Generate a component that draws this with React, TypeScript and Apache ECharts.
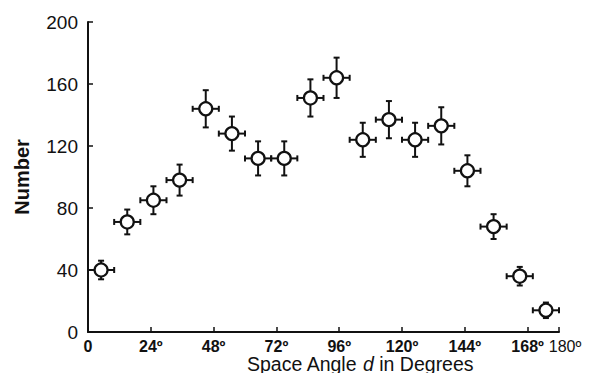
import React, { useEffect, useRef } from "react";
import * as echarts from "echarts";

const angles = [5, 15, 25, 35, 45, 55, 65, 75, 85, 95, 105, 115, 125, 135, 145, 155, 165, 175];
const counts = [40, 71, 85, 98, 144, 128, 112, 112, 151, 164, 124, 137, 124, 133, 104, 68, 36, 14];
const angleErr = [5, 5, 5, 5, 5, 5, 5, 5, 5, 5, 5, 5, 5, 5, 5, 5, 5, 5];
const countErr = [6, 8, 9, 10, 12, 11, 11, 11, 12, 13, 11, 12, 11, 12, 10, 8, 6, 5];
const xTicks = [0, 24, 48, 72, 96, 120, 144, 168, 180];
const yTicks = [0, 40, 80, 120, 160, 200];

const FONT = "Liberation Sans, Arial, sans-serif";

export default function App() {
  const ref = useRef<HTMLDivElement>(null);
  useEffect(() => {
    if (!ref.current) return;
    const chart = echarts.init(ref.current, undefined, { renderer: "svg" });
    const errData = angles.map((a, i) => [a, counts[i], angleErr[i], countErr[i]]);
    const pts = angles.map((a, i) => [a, counts[i]]);
    const lastX = xTicks[xTicks.length - 1];
    chart.setOption({
      animation: false,
      backgroundColor: "#fff",
      grid: { left: 88, right: 38, top: 22, bottom: 49, containLabel: false },
      graphic: [
        {
          type: "text",
          left: 247,
          top: 354,
          style: {
            text: "Space Angle {i|d} in Degrees",
            font: "19.5px Liberation Sans, Arial, sans-serif",
            fill: "#111",
            rich: { i: { fontStyle: "italic", fontFamily: FONT, fontSize: 19.5, fill: "#111" } },
          },
        },
      ],
      xAxis: {
        type: "value",
        min: xTicks[0],
        max: lastX,
        interval: 24,
        axisLine: { lineStyle: { color: "#111", width: 2 } },
        axisTick: { inside: true, length: 5, lineStyle: { color: "#111", width: 1.5 } },
        splitLine: { show: false },
        axisLabel: {
          fontFamily: FONT,
          fontSize: 16,
          fontWeight: "bold",
          color: "#111",
          margin: 6,
          showMaxLabel: true,
          showMinLabel: true,
          hideOverlap: false,
          formatter: (v: number) => (v === 0 ? "0" : v === lastX ? "{r|" + v + "º}" : v + "º"),
          rich: {
            r: { fontFamily: FONT, fontSize: 16, fontWeight: "normal", color: "#111", padding: [0, 0, 0, 12] },
          },
        },
      },
      yAxis: {
        type: "value",
        min: yTicks[0],
        max: yTicks[yTicks.length - 1],
        interval: 40,
        name: "Number",
        nameLocation: "middle",
        nameGap: 56,
        nameRotate: 90,
        nameTextStyle: {
          fontFamily: FONT,
          fontSize: 20,
          fontWeight: "bold",
          color: "#111",
        },
        axisLine: { show: true, lineStyle: { color: "#111", width: 2 } },
        axisTick: { show: true, inside: true, length: 5, lineStyle: { color: "#111", width: 1.5 } },
        splitLine: { show: false },
        axisLabel: { fontFamily: FONT, fontSize: 19, color: "#111", margin: 10 },
      },
      series: [
        {
          type: "custom",
          data: errData,
          z: 1,
          renderItem: (params: any, api: any) => {
            const x = api.value(0);
            const y = api.value(1);
            const ex = api.value(2);
            const ey = api.value(3);
            const l = api.coord([x - ex, y]);
            const r = api.coord([x + ex, y]);
            const t = api.coord([x, y + ey]);
            const b = api.coord([x, y - ey]);
            const c = 3;
            const style = { stroke: "#111", lineWidth: 2 };
            return {
              type: "group",
              children: [
                { type: "line", shape: { x1: l[0], y1: l[1], x2: r[0], y2: r[1] }, style },
                { type: "line", shape: { x1: t[0], y1: t[1], x2: b[0], y2: b[1] }, style },
                { type: "line", shape: { x1: l[0], y1: l[1] - c, x2: l[0], y2: l[1] + c }, style },
                { type: "line", shape: { x1: r[0], y1: r[1] - c, x2: r[0], y2: r[1] + c }, style },
                { type: "line", shape: { x1: t[0] - c, y1: t[1], x2: t[0] + c, y2: t[1] }, style },
                { type: "line", shape: { x1: b[0] - c, y1: b[1], x2: b[0] + c, y2: b[1] }, style },
              ],
            };
          },
        },
        {
          type: "scatter",
          data: pts,
          z: 3,
          symbol: "circle",
          symbolSize: 13,
          itemStyle: { color: "#fff", borderColor: "#111", borderWidth: 2.2, opacity: 1 },
        },
      ],
    });
    return () => chart.dispose();
  }, []);
  return <div ref={ref} style={{ width: 597, height: 381, margin: -8 }} />;
}
